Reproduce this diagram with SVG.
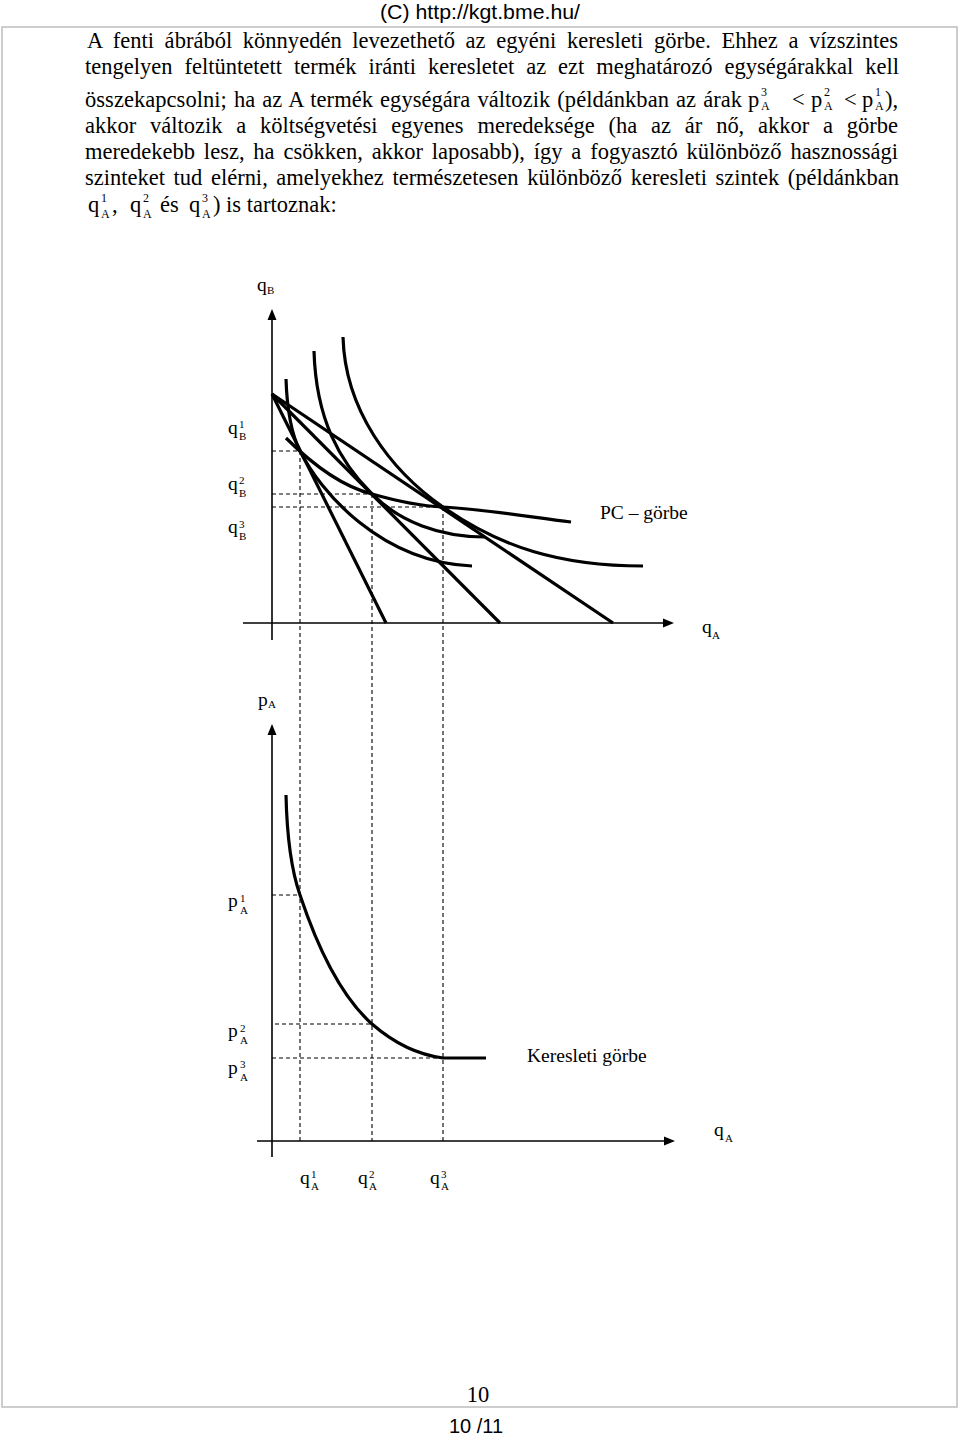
<svg xmlns="http://www.w3.org/2000/svg" width="960" height="1437" viewBox="0 0 960 1437">
<style>
.body{font-family:"Liberation Serif","Times New Roman",serif;font-size:22.5px;fill:#000}
.lbl{font-family:"Liberation Serif","Times New Roman",serif;font-size:19.5px;fill:#000}
.sm{font-family:"Liberation Serif","Times New Roman",serif;font-size:11px;fill:#000}
.msup{font-family:"Liberation Serif","Times New Roman",serif;font-size:12px;fill:#000}
.sans{font-family:"Liberation Sans",Arial,sans-serif;fill:#000}
.axis{stroke:#000;stroke-width:1.6;fill:none}
.curve{stroke:#000;stroke-width:3.2;fill:none;stroke-linecap:butt}
.dash{stroke:#000;stroke-width:1.1;fill:none;stroke-dasharray:4 3}
.arrow{fill:#000}
</style>
<rect id="page-border" x="2" y="27" width="955" height="1380" fill="none" stroke="#bdbdbd" stroke-width="1.5"/>
<g id="header">
<text class="sans" x="380" y="19" font-size="19.5" textLength="200" lengthAdjust="spacingAndGlyphs">(C)  http://kgt.bme.hu/</text>
</g>
<g id="body-text">
<text class="body" x="87" y="48" word-spacing="5" textLength="811" lengthAdjust="spacing">A fenti ábrából könnyedén levezethető az egyéni keresleti görbe. Ehhez a vízszintes</text>
<text class="body" x="85" y="74" word-spacing="6.3" textLength="814" lengthAdjust="spacing">tengelyen feltüntetett termék iránti keresletet az ezt meghatározó egységárakkal kell</text>
<text class="body" x="85" y="107" word-spacing="1.4" textLength="657" lengthAdjust="spacing">összekapcsolni; ha az A termék egységára változik (példánkban az árak</text>
<text class="body" x="748" y="107">p</text><text class="msup" x="761" y="96">3</text><text class="msup" x="761" y="110">A</text>
<text class="body" x="792" y="107">&lt;</text>
<text class="body" x="811" y="107">p</text><text class="msup" x="824" y="96">2</text><text class="msup" x="824" y="110">A</text>
<text class="body" x="844" y="107">&lt;</text>
<text class="body" x="862" y="107">p</text><text class="msup" x="875" y="96">1</text><text class="msup" x="875" y="110">A</text>
<text class="body" x="885" y="107">),</text>
<text class="body" x="85" y="133" word-spacing="8.2" textLength="813" lengthAdjust="spacing">akkor változik a költségvetési egyenes meredeksége (ha az ár nő, akkor a görbe</text>
<text class="body" x="85" y="159" word-spacing="3.2" textLength="813" lengthAdjust="spacing">meredekebb lesz, ha csökken, akkor laposabb), így a fogyasztó különböző hasznossági</text>
<text class="body" x="85" y="185" word-spacing="3" textLength="814" lengthAdjust="spacing">szinteket tud elérni, amelyekhez természetesen különböző keresleti szintek (példánkban</text>
<text class="body" x="88" y="212">q</text><text class="msup" x="101" y="202">1</text><text class="msup" x="101" y="218">A</text>
<text class="body" x="112" y="212">,</text>
<text class="body" x="130" y="212">q</text><text class="msup" x="143" y="202">2</text><text class="msup" x="143" y="218">A</text>
<text class="body" x="160" y="212">és</text>
<text class="body" x="189" y="212">q</text><text class="msup" x="202" y="202">3</text><text class="msup" x="202" y="218">A</text>
<text class="body" x="213" y="212">) is tartoznak:</text>
</g>
<g id="upper-graph">
<g id="upper-axes">
<line class="axis" x1="272" y1="317" x2="272" y2="640"/>
<polygon class="arrow" points="272,309 267.5,320 276.5,320"/>
<line class="axis" x1="243" y1="623" x2="665" y2="623"/>
<polygon class="arrow" points="674,623 663,618.5 663,627.5"/>
</g>
<g id="budget-lines">
<line class="curve" x1="272" y1="394" x2="386" y2="623"/>
<line class="curve" x1="272" y1="394" x2="500" y2="623"/>
<line class="curve" x1="272" y1="394" x2="613" y2="623"/>
</g>
<g id="indifference-curves">
<path class="curve" d="M286,379 C287,410 292,435 300,451 C320,491 380,562 472,566"/>
<path class="curve" d="M314,351 C316,420 340,462 372,494 C400,522 440,537 485,537"/>
<path class="curve" d="M343,337 C345,410 390,470 443,507 C500,547 560,566 643,566"/>
</g>
<g id="pc-curve">
<path class="curve" d="M286,438 C310,462 340,486 372,494 C400,502 420,506 443,507 C490,510 530,517 571,522"/>
</g>
</g>
<g id="connectors">
<line class="dash" x1="272" y1="451" x2="300" y2="451"/>
<line class="dash" x1="272" y1="494" x2="372" y2="494"/>
<line class="dash" x1="272" y1="507" x2="443" y2="507"/>
<line class="dash" x1="300" y1="451" x2="300" y2="1141"/>
<line class="dash" x1="372" y1="494" x2="372" y2="1141"/>
<line class="dash" x1="443" y1="507" x2="443" y2="1141"/>
<line class="dash" x1="272" y1="895" x2="300" y2="895"/>
<line class="dash" x1="275" y1="1024" x2="372" y2="1024"/>
<line class="dash" x1="272" y1="1058" x2="443" y2="1058"/>
</g>
<g id="lower-graph">
<g id="lower-axes">
<line class="axis" x1="272" y1="732" x2="272" y2="1157"/>
<polygon class="arrow" points="272,724 267.5,735 276.5,735"/>
<line class="axis" x1="257" y1="1141" x2="666" y2="1141"/>
<polygon class="arrow" points="675,1141 664,1136.5 664,1145.5"/>
</g>
<g id="demand-curve">
<path class="curve" d="M286,795 C287,840 292,872 300,895 C320,955 345,1000 372,1024 C395,1044 420,1055 443,1058 L486,1058"/>
</g>
</g>
<g id="labels">
<g id="lbl-qB"><text class="lbl" x="257" y="291">q</text><text class="sm" x="267" y="294">B</text></g>
<g id="lbl-qB1"><text class="lbl" x="228" y="434">q</text><text class="sm" x="239" y="428">1</text><text class="sm" x="239" y="440">B</text></g>
<g id="lbl-qB2"><text class="lbl" x="228" y="490">q</text><text class="sm" x="239" y="484">2</text><text class="sm" x="239" y="497">B</text></g>
<g id="lbl-qB3"><text class="lbl" x="228" y="533">q</text><text class="sm" x="239" y="528">3</text><text class="sm" x="239" y="540">B</text></g>
<g id="lbl-pc"><text class="lbl" x="600" y="519">PC – görbe</text></g>
<g id="lbl-qA-top"><text class="lbl" x="702" y="633">q</text><text class="sm" x="712" y="639">A</text></g>
<g id="lbl-pA"><text class="lbl" x="258" y="706">p</text><text class="sm" x="268" y="708">A</text></g>
<g id="lbl-pA1"><text class="lbl" x="228" y="907">p</text><text class="sm" x="240" y="902">1</text><text class="sm" x="240" y="914">A</text></g>
<g id="lbl-pA2"><text class="lbl" x="228" y="1037">p</text><text class="sm" x="240" y="1032">2</text><text class="sm" x="240" y="1044">A</text></g>
<g id="lbl-pA3"><text class="lbl" x="228" y="1074">p</text><text class="sm" x="240" y="1068">3</text><text class="sm" x="240" y="1081">A</text></g>
<g id="lbl-demand"><text class="lbl" x="527" y="1062">Keresleti görbe</text></g>
<g id="lbl-qA-bottom"><text class="lbl" x="714" y="1136">q</text><text class="sm" x="725" y="1142">A</text></g>
<g id="lbl-qA1"><text class="lbl" x="300" y="1184">q</text><text class="sm" x="311" y="1178">1</text><text class="sm" x="311" y="1190">A</text></g>
<g id="lbl-qA2"><text class="lbl" x="358" y="1184">q</text><text class="sm" x="369" y="1178">2</text><text class="sm" x="369" y="1190">A</text></g>
<g id="lbl-qA3"><text class="lbl" x="430" y="1184">q</text><text class="sm" x="441" y="1178">3</text><text class="sm" x="441" y="1190">A</text></g>
</g>
<g id="footer">
<text class="body" x="478" y="1402" text-anchor="middle" font-size="21">10</text>
<text class="sans" x="476" y="1433" text-anchor="middle" font-size="20">10 /11</text>
</g>
</svg>
